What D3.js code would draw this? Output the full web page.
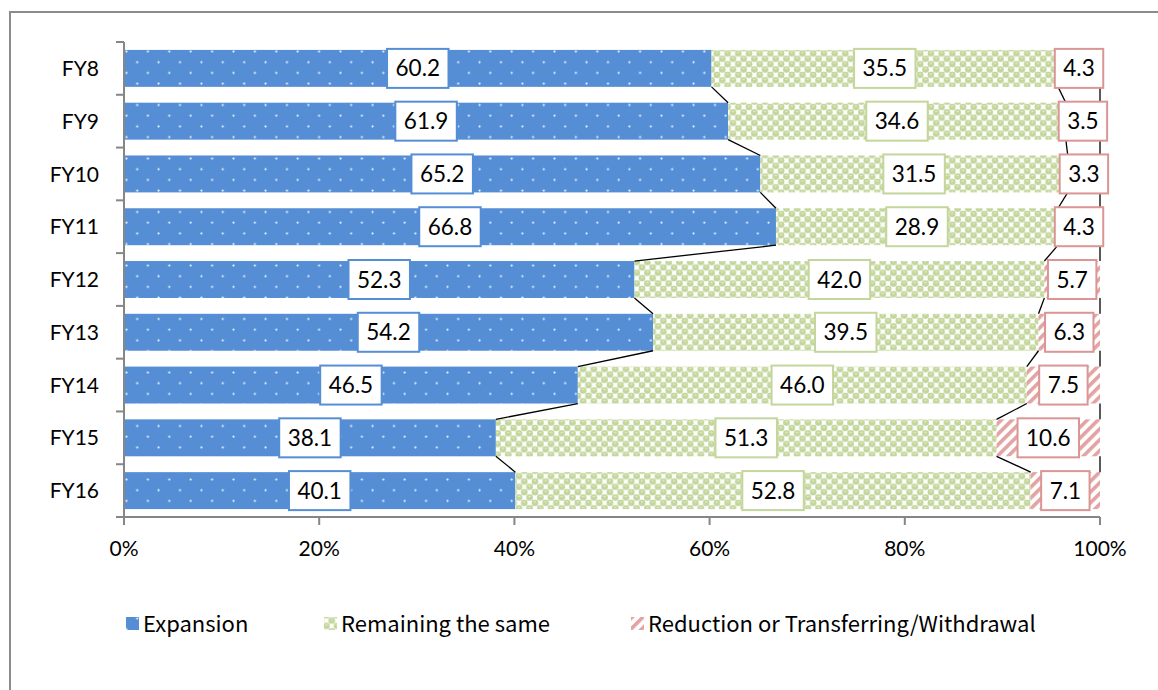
<!DOCTYPE html>
<html><head><meta charset="utf-8">
<script src="https://cdn.jsdelivr.net/npm/d3@7"></script>
<style>
html,body{margin:0;padding:0;background:#fff;}
svg{display:block;}
</style></head>
<body>
<script>
const categories = ["FY8","FY9","FY10","FY11","FY12","FY13","FY14","FY15","FY16"];
const expansion = [60.2,61.9,65.2,66.8,52.3,54.2,46.5,38.1,40.1];
const remaining = [35.5,34.6,31.5,28.9,42.0,39.5,46.0,51.3,52.8];
const reduction = [4.3,3.5,3.3,4.3,5.7,6.3,7.5,10.6,7.1];
const seriesNames = ["Expansion","Remaining the same","Reduction or Transferring/Withdrawal"];
const xTicks = [0,20,40,60,80,100];

const W = 1158, H = 690;
const svg = d3.select("body").append("svg").attr("width", W).attr("height", H);
const defs = svg.append("defs");

// frame
svg.append("path").attr("d", `M10,${H+2} L10,12 L${W+2},12`).attr("fill","none")
  .attr("stroke","#8c8c8c").attr("stroke-width",2);

const m = {left:124, right:1100, top:42, bottom:517};
const x = d3.scaleLinear().domain([0,100]).range([m.left, m.right]);
const y = d3.scaleBand().domain(categories).range([m.top, m.bottom]).paddingInner(0.3).paddingOuter(0.15);

// patterns
const blue = "#558ED5", green = "#C3D69B", red = "#E2A3A2";
const pB = defs.append("pattern").attr("id","pBlue").attr("patternUnits","userSpaceOnUse")
  .attr("width",21.4).attr("height",21.4).attr("x",124).attr("y",49);
pB.append("rect").attr("width",21.4).attr("height",21.4).attr("fill",blue);
pB.append("circle").attr("cx",2.5).attr("cy",2.5).attr("r",1.1).attr("fill","#eef4fc");
pB.append("circle").attr("cx",13.2).attr("cy",13.2).attr("r",1.1).attr("fill","#eef4fc");

const t = 10.7, c = t/2;
const pG = defs.append("pattern").attr("id","pGreen").attr("patternUnits","userSpaceOnUse")
  .attr("width",t).attr("height",t).attr("x",0).attr("y",0);
pG.append("rect").attr("width",t).attr("height",t).attr("fill","#fff");
[[0,0],[c,c],[t,t],[t,0],[0,t]].forEach(([a,b])=>{
  pG.append("rect").attr("x",a-3.3).attr("y",b-3.1).attr("width",6.6).attr("height",6.2)
    .attr("rx",2.4).attr("fill",green);
  pG.append("ellipse").attr("cx",a).attr("cy",b-0.9).attr("rx",1.3).attr("ry",0.7).attr("fill","#e3ecd0");
});

const pR = defs.append("pattern").attr("id","pRed").attr("patternUnits","userSpaceOnUse")
  .attr("width",7.6).attr("height",7.6).attr("patternTransform","rotate(45)");
pR.append("rect").attr("width",7.6).attr("height",7.6).attr("fill","#fff");
pR.append("rect").attr("width",3.6).attr("height",7.6).attr("fill",red);

const fills = ["url(#pBlue)","url(#pGreen)","url(#pRed)"];
const strokes = [blue, green, "#D99694"];

// stacked data
const rows = categories.map((cat,i)=>({cat, vals:[expansion[i],remaining[i],reduction[i]]}));
const stack = rows.map(r=>{
  let acc = 0;
  return r.vals.map((v,k)=>{ const s = {cat:r.cat, k, v, x0:acc, x1:acc+v}; acc += v; return s; });
});

const gBars = svg.append("g");
stack.forEach(row=>{
  gBars.selectAll(null).data(row).enter().append("rect")
    .attr("x", d=>x(d.x0)).attr("y", d=>y(d.cat))
    .attr("width", d=>x(d.x1)-x(d.x0)).attr("height", y.bandwidth())
    .attr("fill", d=>fills[d.k]);
});

// series lines
const gLines = svg.append("g");
for (let i=0;i<categories.length-1;i++){
  for (let k=0;k<3;k++){
    const a = stack[i][k], b = stack[i+1][k];
    gLines.append("line")
      .attr("x1", x(a.x1)).attr("y1", y(a.cat)+y.bandwidth())
      .attr("x2", x(b.x1)).attr("y2", y(b.cat))
      .attr("stroke","#000").attr("stroke-width",1.3);
  }
}

// axes
const axisCol = "#868686";
const gAx = svg.append("g");
gAx.append("line").attr("x1",m.left).attr("x2",m.left).attr("y1",m.top).attr("y2",m.bottom)
  .attr("stroke",axisCol).attr("stroke-width",2);
const bounds = d3.range(categories.length+1).map(i=>m.top + i*(m.bottom-m.top)/categories.length);
gAx.selectAll(null).data(bounds).enter().append("line")
  .attr("x1",m.left-8).attr("x2",m.left).attr("y1",d=>d).attr("y2",d=>d)
  .attr("stroke",axisCol).attr("stroke-width",2);
gAx.append("line").attr("x1",m.left).attr("x2",m.right).attr("y1",m.bottom).attr("y2",m.bottom)
  .attr("stroke",axisCol).attr("stroke-width",2);
gAx.selectAll(null).data(xTicks).enter().append("line")
  .attr("x1",d=>x(d)).attr("x2",d=>x(d)).attr("y1",m.bottom).attr("y2",m.bottom+8)
  .attr("stroke",axisCol).attr("stroke-width",2);

const font = "Lato, 'Liberation Sans', sans-serif";
gAx.selectAll(null).data(xTicks).enter().append("text")
  .attr("x",d=>x(d)).attr("y",556).attr("text-anchor","middle")
  .attr("font-family",font).attr("font-size",21).attr("fill","#000").text(d=>d+"%");
gAx.selectAll(null).data(categories).enter().append("text")
  .attr("x",99).attr("y",d=>y(d)+y.bandwidth()/2).attr("dy","0.36em").attr("text-anchor","end")
  .attr("font-family",font).attr("font-size",21).attr("fill","#000").text(d=>d);

// labels
const fmt = d3.format(".1f");
const gLab = svg.append("g");
stack.forEach(row=>{
  row.forEach(d=>{
    const cx = x((d.x0+d.x1)/2), cy = y(d.cat)+y.bandwidth()/2;
    const g = gLab.append("g");
    const rect = g.append("rect");
    const txt = g.append("text").attr("x",cx).attr("y",cy).attr("dy","0.36em")
      .attr("text-anchor","middle").attr("font-family",font).attr("font-size",22.5)
      .attr("fill","#000").text(fmt(d.v));
    const bb = txt.node().getBBox();
    const w = bb.width + 17, h = 39;
    rect.attr("x",cx-w/2).attr("y",cy-h/2).attr("width",w).attr("height",h)
      .attr("fill","#fff").attr("stroke",strokes[d.k]).attr("stroke-width",2);
  });
});

// legend
const legFont = "'Noto Sans CJK JP', 'Noto Sans', sans-serif";
const legItems = [{x:126},{x:324},{x:631}];
const gLeg = svg.append("g");
seriesNames.forEach((n,i)=>{
  gLeg.append("rect").attr("x",legItems[i].x).attr("y",617).attr("width",13).attr("height",13)
    .attr("fill",fills[i]);
  gLeg.append("text").attr("x",legItems[i].x+17).attr("y",624).attr("dy","0.35em")
    .attr("font-family",legFont).attr("font-size",22).attr("fill","#000").text(n);
});
</script>
</body></html>
